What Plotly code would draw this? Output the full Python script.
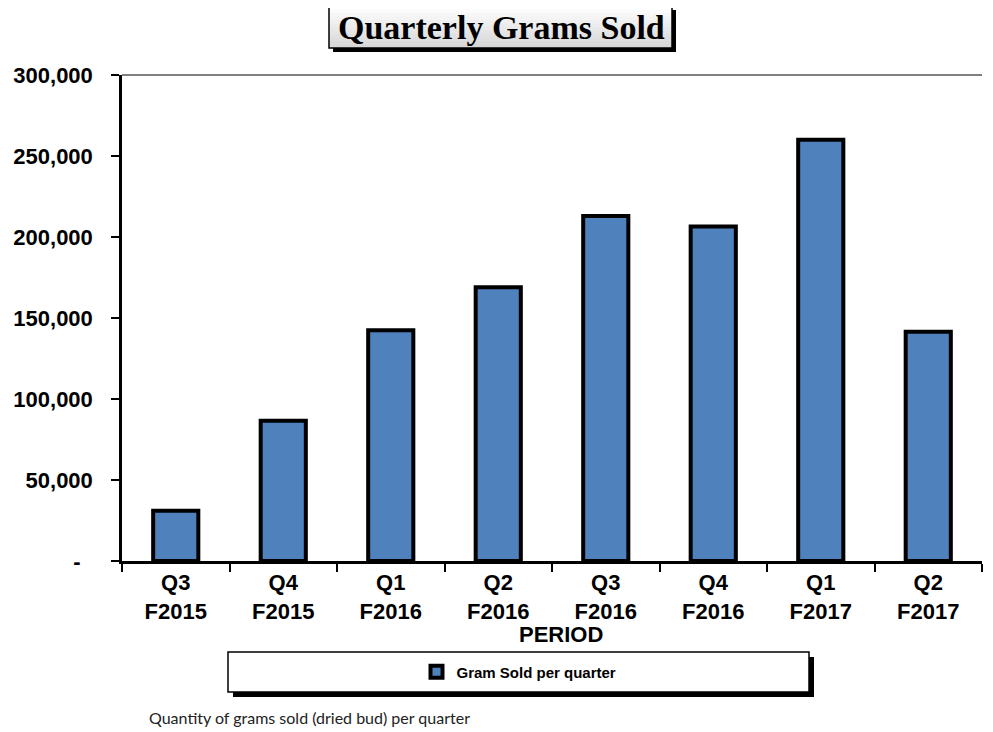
import plotly.graph_objects as go

# data
quarters = ["Q3<br>F2015", "Q4<br>F2015", "Q1<br>F2016", "Q2<br>F2016",
            "Q3<br>F2016", "Q4<br>F2016", "Q1<br>F2017", "Q2<br>F2017"]
grams_sold = [31000, 86500, 142500, 169000, 213000, 206500, 260000, 141500]
y_ticks = [0, 50000, 100000, 150000, 200000, 250000, 300000]
y_tick_text = ["-\u00a0\u00a0", "50,000", "100,000", "150,000", "200,000", "250,000", "300,000"]

# the page body adds an 8px offset, so the figure is laid out 8px smaller
OFF = 8
W, H = 993 - OFF, 732 - OFF
L, R, T, B = 122 - OFF, 11, 75 - OFF, 179 - OFF
PW, PH = W - L - R, H - T - B


def px(x):
    return (x - OFF - L) / PW


def py(y):
    return (H - B - (y - OFF)) / PH


fig = go.Figure(go.Bar(
    x=quarters,
    y=grams_sold,
    name="Gram Sold per quarter",
    marker=dict(color="#4f81bd", line=dict(color="black", width=4)),
))

shapes = []
# title box: shadow, gradient fill, border
shapes.append(dict(type="rect", xref="paper", yref="paper",
                   x0=px(333), x1=px(676), y0=py(52), y1=py(10),
                   fillcolor="black", line=dict(width=0), layer="above"))
steps = 12
for i in range(steps):
    g = int(255 - 40 * i / (steps - 1))
    y0 = 6 + (48 - 6) * i / steps
    shapes.append(dict(type="rect", xref="paper", yref="paper",
                       x0=px(329), x1=px(672), y0=py(48), y1=py(y0),
                       fillcolor=f"rgb({g},{g},{g})", line=dict(width=0),
                       layer="above"))
shapes.append(dict(type="rect", xref="paper", yref="paper",
                   x0=px(329), x1=px(672), y0=py(48), y1=py(6),
                   fillcolor="rgba(0,0,0,0)", line=dict(color="black", width=1.5),
                   layer="above"))
# legend box with shadow
shapes.append(dict(type="rect", xref="paper", yref="paper",
                   x0=px(233), x1=px(814), y0=py(697), y1=py(657),
                   fillcolor="black", line=dict(width=0), layer="below"))
shapes.append(dict(type="rect", xref="paper", yref="paper",
                   x0=px(228), x1=px(809), y0=py(692), y1=py(652),
                   fillcolor="white", line=dict(color="black", width=1.5),
                   layer="below"))
# grey line at top of plot area
shapes.append(dict(type="line", xref="paper", yref="paper",
                   x0=0, x1=1, y0=1, y1=1,
                   line=dict(color="#808080", width=2)))

fig.update_layout(
    width=W, height=H,
    margin=dict(l=L, r=R, t=T, b=B, autoexpand=False),
    paper_bgcolor="white",
    plot_bgcolor="white",
    bargap=0.58,
    showlegend=True,
    legend=dict(x=px(519), y=py(672), xanchor="center", yanchor="middle",
                bgcolor="rgba(0,0,0,0)",
                font=dict(family="Arial", size=15, color="black", weight="bold")),
    shapes=shapes,
    font=dict(family="Arial", color="black"),
)

fig.update_xaxes(
    automargin=False,
    showline=True, linecolor="black", linewidth=2.5,
    ticks="outside", tickson="boundaries", ticklen=8, tickwidth=2, tickcolor="black",
    tickfont=dict(family="Arial", size=22, color="black", weight="bold"),
    showgrid=False,
)
fig.update_yaxes(
    automargin=False,
    range=[0, 300000],
    tickvals=y_ticks, ticktext=y_tick_text,
    showline=True, linecolor="black", linewidth=2.5,
    ticks="outside", ticklen=8, tickwidth=2, tickcolor="black",
    ticklabelstandoff=14,
    tickfont=dict(family="Arial", size=22, color="black", weight="bold"),
    showgrid=False, zeroline=False,
)

fig.add_annotation(text="<b>Quarterly Grams Sold</b>", xref="paper", yref="paper",
                   x=px(501), y=py(28), xanchor="center", yanchor="middle",
                   showarrow=False,
                   font=dict(family="Liberation Serif", size=34, color="black"))
fig.add_annotation(text="<b>PERIOD</b>", xref="paper", yref="paper",
                   x=px(561), y=py(634), xanchor="center", yanchor="middle",
                   showarrow=False,
                   font=dict(family="Arial", size=22, color="black"))
fig.add_annotation(text="Quantity of grams sold (dried bud) per quarter",
                   xref="paper", yref="paper",
                   x=px(147), y=py(717), xanchor="left", yanchor="middle",
                   showarrow=False,
                   font=dict(family="Lato", size=16, color="#222222"))

fig.write_html("out.html")
